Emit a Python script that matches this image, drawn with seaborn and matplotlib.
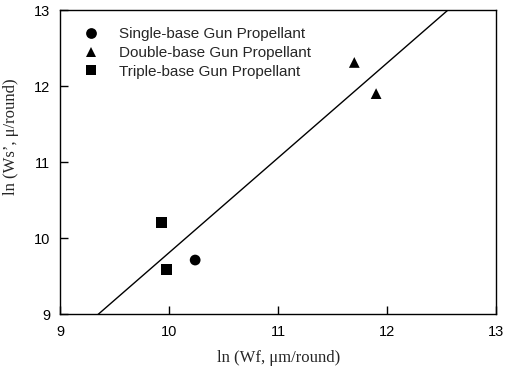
import pandas as pd
import matplotlib
matplotlib.use("Agg")
import matplotlib.pyplot as plt
import seaborn as sns

# values
propellant = ["Single-base Gun Propellant",
              "Double-base Gun Propellant", "Double-base Gun Propellant",
              "Triple-base Gun Propellant", "Triple-base Gun Propellant"]
ln_wf = [10.24, 11.70, 11.90, 9.93, 9.98]
ln_ws = [9.71, 12.31, 11.90, 10.20, 9.59]
ticks = [9, 10, 11, 12, 13]

df = pd.DataFrame({"propellant": propellant, "ln_wf": ln_wf, "ln_ws": ln_ws})

sns.set_style("ticks")
plt.rcParams["font.family"] = ["Liberation Sans", "DejaVu Sans"]

fig = plt.figure(figsize=(5.06, 3.73), dpi=100)
ax = fig.add_axes([60 / 506, 1 - 314 / 373, 436 / 506, 304 / 373])
ax.set_xlim(9, 13)
ax.set_ylim(9, 13)

# least squares line through all points, drawn across the whole x range
sns.regplot(data=df, x="ln_wf", y="ln_ws", scatter=False, ci=None,
            truncate=False, color="black", line_kws={"lw": 1.0}, ax=ax)

sns.scatterplot(data=df, x="ln_wf", y="ln_ws", style="propellant",
                markers={"Single-base Gun Propellant": "o",
                         "Double-base Gun Propellant": "^",
                         "Triple-base Gun Propellant": "s"},
                color="black", s=60, edgecolor="black", linewidth=0, ax=ax)

ax.set_xlim(9, 13)
ax.set_ylim(9, 13)
ax.set_xticks(ticks)
ax.set_yticks(ticks)
ax.tick_params(direction="in", length=6, width=1, labelsize=10.5, colors="black")
ax.tick_params(axis="x", pad=8)
ax.tick_params(axis="y", pad=7)
for sp in ax.spines.values():
    sp.set_linewidth(1)
    sp.set_color("black")

ax.set_xlabel("ln (Wf, \u03bcm/round)", family=["Liberation Serif"], fontsize=12)
ax.set_ylabel("ln (Ws\u2019, \u03bc/round)", family=["Liberation Serif"], fontsize=12)
ax.xaxis.set_label_coords(0.501, -0.12)
ax.yaxis.set_label_coords(-0.093, 0.582)

leg = ax.legend(loc="upper left", frameon=False, fontsize=11,
                bbox_to_anchor=(0.004, 0.988), handletextpad=0.85,
                labelspacing=0.3, title=None)

fig.savefig("out.png", dpi=100)
